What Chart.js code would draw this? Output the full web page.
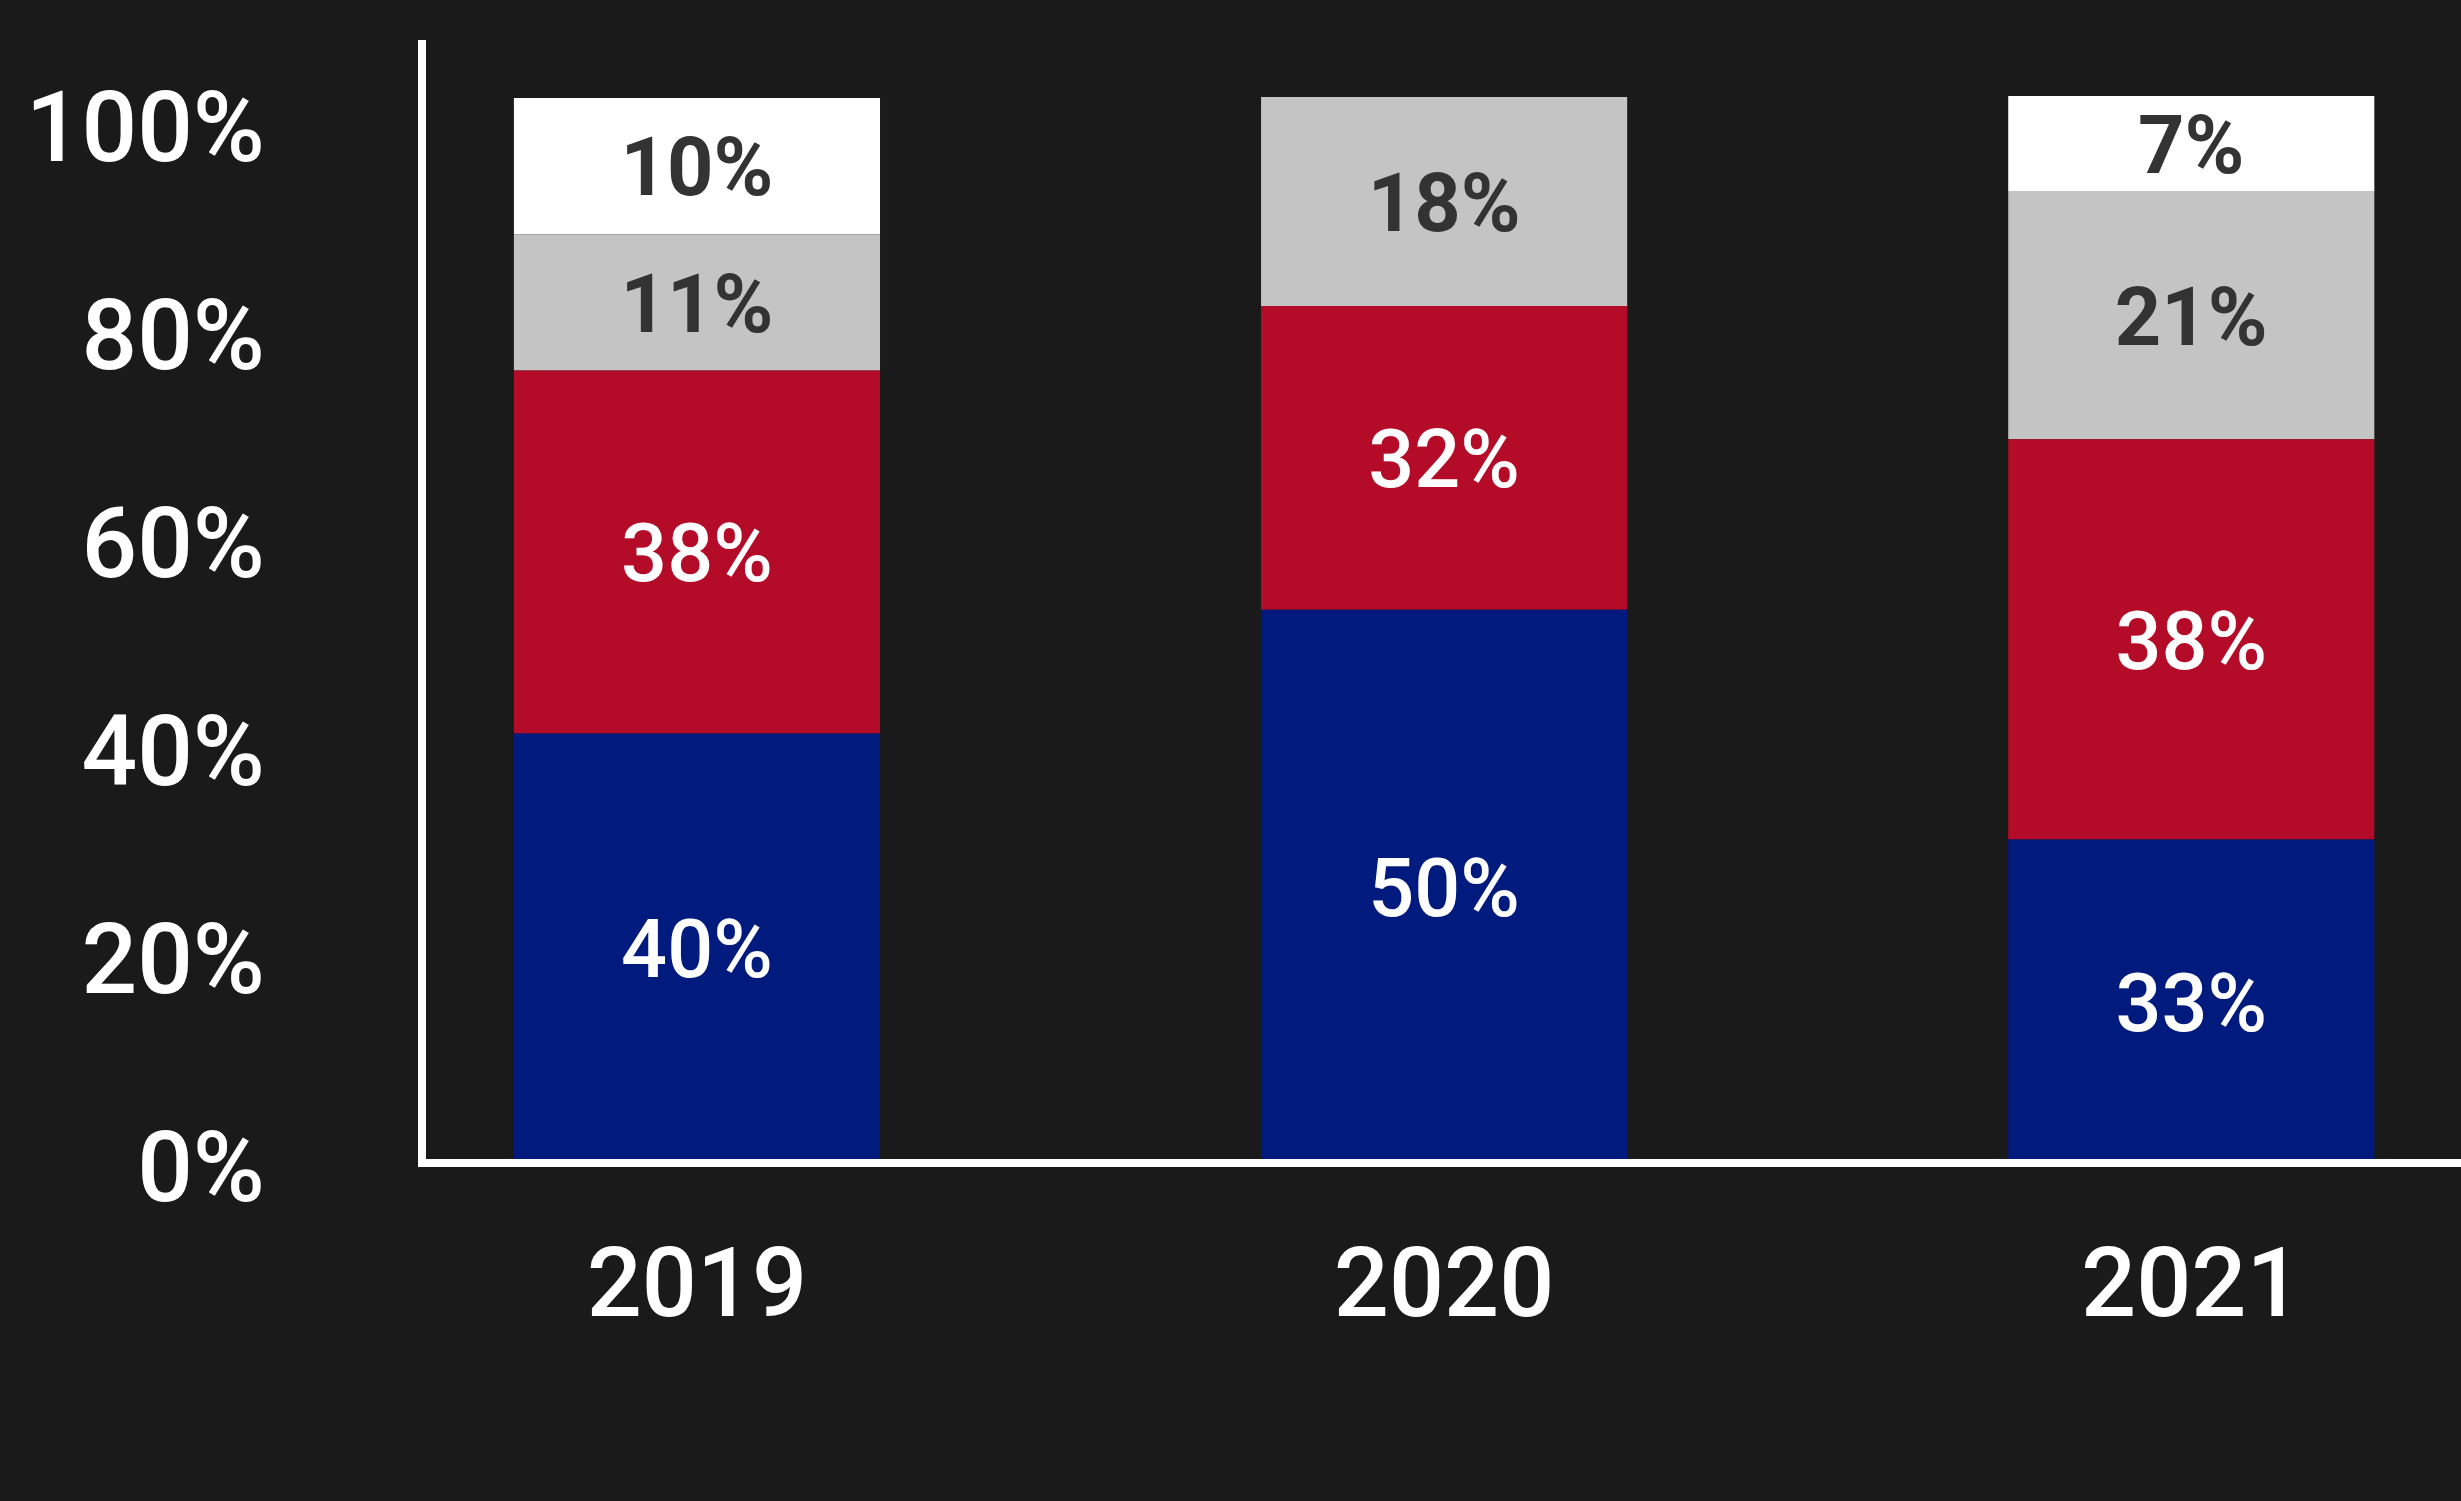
<!DOCTYPE html>
<html>
<head>
<meta charset="utf-8">
<script src="https://cdn.jsdelivr.net/npm/chart.js@4"></script>
<style>
    html, body { margin: 0; padding: 0; background: #1a1a1a; }
    #wrap { width: 2461px; height: 1501px; position: relative; }
</style>
</head>
<body>
<div id="wrap"><canvas id="chart"></canvas></div>
<script>
// years on the x axis
var years = [2019, 2020, 2021];

// bar heights as they are drawn (in % of the axis); the printed numbers don't add up to them exactly
var navyHeight = [41.3, 53.2, 31.1];
var redHeight = [34.9, 29.2, 38.5];
var greyHeight = [13.1, 20.1, 23.8];
var whiteHeight = [13.1, null, 9.2];

// numbers printed inside the bars
var navyText = [40, 50, 33];
var redText = [38, 32, 38];
var greyText = [11, 18, 21];
var whiteText = [10, null, 7];

var yTicks = [0, 20, 40, 60, 80, 100];

var FONT = "Roboto, 'Open Sans', sans-serif";

function makeSet(heights, texts, fill, textColor, weight) {
    return {
        data: heights,
        printed: texts,
        textColor: textColor,
        textWeight: weight,
        backgroundColor: fill,
        borderWidth: 0,
        categoryPercentage: 1,
        barPercentage: 0.49
    };
}

// draws the percentages in the middle of each segment
var segmentLabels = {
    id: 'segmentLabels',
    afterDatasetsDraw: function(chart) {
        var ctx = chart.ctx;
        ctx.save();
        ctx.textAlign = 'center';
        ctx.textBaseline = 'middle';
        chart.data.datasets.forEach(function(ds, d) {
            var meta = chart.getDatasetMeta(d);
            ctx.fillStyle = ds.textColor;
            ctx.font = ds.textWeight + ' 81px ' + FONT;
            meta.data.forEach(function(bar, i) {
                if (ds.printed[i] == null || ds.data[i] == null) return;
                ctx.fillText(ds.printed[i] + '%', bar.x, (bar.y + bar.base) / 2 + 9);
            });
        });
        ctx.restore();
    }
};

var config = {
    type: 'bar',
    plugins: [segmentLabels],
    data: {
        labels: years,
        datasets: [
            makeSet(navyHeight, navyText, '#001a7d', '#ffffff', 500),
            makeSet(redHeight, redText, '#b40c28', '#ffffff', 500),
            makeSet(greyHeight, greyText, '#c4c4c4', '#333333', 700),
            makeSet(whiteHeight, whiteText, '#ffffff', '#333333', 700)
        ]
    },
    options: {
        responsive: true,
        maintainAspectRatio: false,
        animation: false,
        layout: { padding: { top: 44, left: 0, right: 0, bottom: 0 } },
        plugins: {
            legend: { display: false },
            tooltip: { enabled: false }
        },
        scales: {
            x: {
                type: 'linear',
                stacked: true,
                offset: false,
                min: 2018.632,
                max: 2021.361,
                grid: { display: false, drawTicks: false },
                border: { display: true, color: '#ffffff', width: 8, z: 1 },
                afterBuildTicks: function(scale) {
                    scale.ticks = years.map(function(y) { return { value: y }; });
                },
                afterFit: function(scale) {
                    scale.height = 338;
                    scale.paddingLeft = 0;
                    scale.paddingRight = 0;
                },
                ticks: {
                    padding: 71,
                    color: '#ffffff',
                    font: { family: FONT, size: 97, weight: 500 },
                    maxRotation: 0,
                    autoSkip: false,
                    callback: function(v) { return String(v); }
                }
            },
            y: {
                stacked: true,
                min: 0,
                max: 107.6,
                grid: { display: false, drawTicks: false },
                border: { display: true, color: '#ffffff', width: 8, z: 1 },
                afterBuildTicks: function(scale) {
                    scale.ticks = yTicks.map(function(v) { return { value: v }; });
                },
                afterFit: function(scale) {
                    scale.width = 422;
                    scale.paddingTop = 0;
                    scale.paddingBottom = 0;
                },
                ticks: {
                    padding: 157,
                    labelOffset: 13,
                    color: '#ffffff',
                    font: { family: FONT, size: 98, weight: 500 },
                    callback: function(v) { return v + '%'; }
                }
            }
        }
    }
};

var ctx = document.getElementById('chart').getContext('2d');
window.myBar = new Chart(ctx, config);
</script>
</body>
</html>
